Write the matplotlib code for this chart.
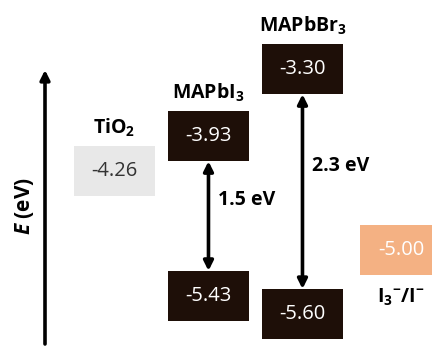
import matplotlib
matplotlib.use("Agg")
import matplotlib.pyplot as plt
from matplotlib.patches import Rectangle

plt.rcParams["font.family"] = ["Open Sans", "DejaVu Sans"]
plt.rcParams["mathtext.fontset"] = "custom"
plt.rcParams["mathtext.rm"] = "Open Sans"
plt.rcParams["mathtext.bf"] = "Open Sans:bold"
plt.rcParams["mathtext.bfit"] = "Open Sans:italic:bold"

# energy levels (eV)
materials = ["TiO$_\\mathbf{2}$", "MAPbI$_\\mathbf{3}$", "MAPbBr$_\\mathbf{3}$"]
cb_levels = [-4.26, -3.93, -3.30]
vb_levels = [None, -5.43, -5.60]
gap_labels = [None, "1.5 eV", "2.3 eV"]
redox_label = "I$_\\mathbf{3}$$^\\mathbf{-}$/I$^\\mathbf{-}$"
redox_level = -5.00

dark = "#1e0f08"
box_w, box_h = 0.87, 0.47

fig = plt.figure(figsize=(4.32, 3.52), dpi=100)
ax = fig.add_axes([0, 0, 1, 1])
ax.set_xlim(-1.218, 3.378)
ax.set_ylim(-5.958, -2.649)
ax.axis("off")


def level_box(x, y, color, text_color, label):
    ax.add_patch(Rectangle((x - box_w / 2, y - box_h / 2), box_w, box_h,
                           facecolor=color, edgecolor="none"))
    ax.text(x, y, f"{label:.2f}", color=text_color, ha="center", va="center",
            fontsize=14.5)


for i, name in enumerate(materials):
    cb = cb_levels[i]
    vb = vb_levels[i]
    if vb is None:
        level_box(i, cb, "#e8e8e8", "#333333", cb)
    else:
        level_box(i, cb, dark, "white", cb)
        level_box(i, vb, dark, "white", vb)
        ax.annotate("", xy=(i, cb - box_h / 2), xytext=(i, vb + box_h / 2),
                    arrowprops=dict(arrowstyle="<|-|>", color="black", lw=2.6,
                                    mutation_scale=14, shrinkA=0, shrinkB=0))
        off = 11.5 if i == 1 else 18.5
        ax.annotate(gap_labels[i], xy=(i, (cb + vb) / 2), xytext=(7, off),
                    textcoords="offset points", ha="left", va="center",
                    fontsize=14, fontweight="bold")
    ax.annotate(name, xy=(i, cb + box_h / 2), xytext=(0, 5),
                textcoords="offset points", ha="center", va="bottom",
                fontsize=14, fontweight="bold")

# redox couple
level_box(3.05, redox_level, "#f4b183", "white", redox_level)
ax.annotate(redox_label, xy=(3.05, redox_level - box_h / 2), xytext=(0, -8),
            textcoords="offset points", ha="center", va="top",
            fontsize=14, fontweight="bold")

# energy axis arrow
ax.annotate("", xy=(45 / 432, 1 - 70 / 352), xytext=(45 / 432, 1 - 344 / 352),
            xycoords="axes fraction", textcoords="axes fraction",
            arrowprops=dict(arrowstyle="-|>", color="black", lw=2.6,
                            mutation_scale=14, shrinkA=0, shrinkB=0))
ax.text(25 / 432, 1 - 206 / 352, "$\\mathbfit{E}$ (eV)", transform=ax.transAxes,
        rotation=90, ha="center", va="center", fontsize=15, fontweight="bold")

fig.savefig("out.png", dpi=100)
